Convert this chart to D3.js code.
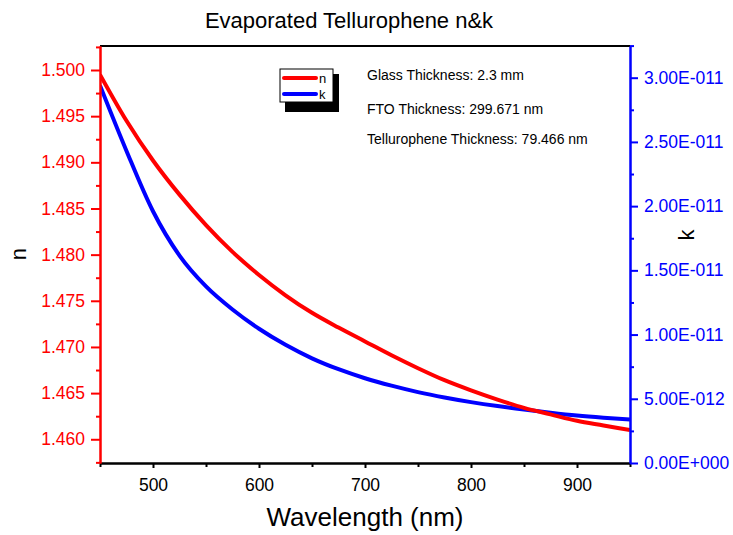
<!DOCTYPE html>
<html>
<head>
<meta charset="utf-8">
<script src="https://cdn.jsdelivr.net/npm/d3@7"></script>
<style>
  body { margin: 0; background: #fff; }
  text { font-family: "Liberation Sans", Arial, sans-serif; }
</style>
</head>
<body>
<div id="chart"></div>
<script>

// wavelength (nm) and the two optical constants
var wavelength = [450, 475, 500, 525, 550, 575, 600, 625, 650, 675, 700,
                  725, 750, 775, 800, 825, 850, 875, 900, 925, 950];
var nValues = [1.4995, 1.4945, 1.4902, 1.4865, 1.4832, 1.4803, 1.4778, 1.4756,
               1.4737, 1.4721, 1.4706, 1.4691, 1.4677, 1.4664, 1.4653, 1.4643,
               1.4634, 1.4627, 1.4620, 1.4615, 1.4610];
var kValues = [2.94e-11, 2.43e-11, 1.96e-11, 1.615e-11, 1.375e-11, 1.195e-11, 1.045e-11,
               0.92e-11, 0.815e-11, 0.73e-11, 0.66e-11, 0.602e-11, 0.552e-11, 0.51e-11,
               0.474e-11, 0.443e-11, 0.416e-11, 0.391e-11, 0.369e-11, 0.352e-11, 0.338e-11];

var xTicks = [500, 600, 700, 800, 900];
var xMinor = [450, 550, 650, 750, 850, 950];
var nTicks = [1.460, 1.465, 1.470, 1.475, 1.480, 1.485, 1.490, 1.495, 1.500];
var kTicks = [0, 5e-12, 1e-11, 1.5e-11, 2e-11, 2.5e-11, 3e-11];

var seriesNames = ["n", "k"];
var infoLines = ["Glass Thickness: 2.3 mm",
                 "FTO Thickness: 299.671 nm",
                 "Tellurophene Thickness: 79.466 nm"];

var svgWidth = 733;
var svgHeight = 535;

var margin = { top: 46, bottom: 72, left: 100, right: 103 };
var width = svgWidth - margin.left - margin.right;
var height = svgHeight - margin.top - margin.bottom;

var svg = d3.select("#chart")
  .append("svg")
  .attr("width", svgWidth)
  .attr("height", svgHeight);

var chartGroup = svg.append("g")
  .attr("transform", `translate(${margin.left}, ${margin.top})`);

// scales
var xScale = d3.scaleLinear().domain([450, 950]).range([0, width]);
var nScale = d3.scaleLinear().domain([1.45743, 1.5026]).range([height, 0]);
var kScale = d3.scaleLinear().domain([0, 3.2468e-11]).range([height, 0]);

// "3.00E-011" style labels
function sciFormat(v) {
  if (v === 0) return "0.00E+000";
  var e = Math.floor(Math.log10(v));
  var m = v / Math.pow(10, e);
  if (m >= 9.995) { m = m / 10; e = e + 1; }
  return m.toFixed(2) + "E" + (e < 0 ? "-" : "+") + String(Math.abs(e)).padStart(3, "0");
}

function midpoints(ticks) {
  var step = ticks[1] - ticks[0];
  var out = [ticks[0] - step / 2];
  ticks.forEach(function(t) { out.push(t + step / 2); });
  return out;
}

// top frame line
chartGroup.append("line")
  .attr("x1", 0).attr("x2", width)
  .attr("y1", 0).attr("y2", 0)
  .attr("stroke", "#000")
  .attr("stroke-width", 2);

// clip for the curves
svg.append("defs").append("clipPath").attr("id", "plotClip")
  .append("rect").attr("width", width).attr("height", height);

var plot = chartGroup.append("g").attr("clip-path", "url(#plotClip)");

var nLine = d3.line()
  .x((d, i) => xScale(wavelength[i]))
  .y(d => nScale(d))
  .curve(d3.curveMonotoneX);

var kLine = d3.line()
  .x((d, i) => xScale(wavelength[i]))
  .y(d => kScale(d))
  .curve(d3.curveMonotoneX);

plot.append("path")
  .datum(kValues)
  .attr("d", kLine)
  .attr("fill", "none")
  .attr("stroke", "#0000ff")
  .attr("stroke-width", 4);

plot.append("path")
  .datum(nValues)
  .attr("d", nLine)
  .attr("fill", "none")
  .attr("stroke", "#ff0000")
  .attr("stroke-width", 4);

// bottom axis
var xAxisGroup = chartGroup.append("g")
  .attr("transform", `translate(0, ${height})`);
xAxisGroup.append("g")
  .call(d3.axisBottom(xScale).tickValues(xMinor).tickSize(4).tickSizeOuter(0).tickFormat(""));
xAxisGroup.append("g")
  .call(d3.axisBottom(xScale).tickValues(xTicks).tickSize(5).tickSizeOuter(0).tickPadding(11))
  .selectAll("text")
  .attr("font-size", "17.5px")
  .attr("fill", "#000");
xAxisGroup.selectAll("path, line")
  .attr("stroke", "#000")
  .attr("stroke-width", 2);

// left axis (n)
var nAxisGroup = chartGroup.append("g");
nAxisGroup.append("g")
  .call(d3.axisLeft(nScale).tickValues(midpoints(nTicks)).tickSize(4).tickSizeOuter(0).tickFormat(""));
nAxisGroup.append("g")
  .call(d3.axisLeft(nScale).tickValues(nTicks).tickSize(9).tickSizeOuter(0)
    .tickPadding(6).tickFormat(d3.format(".3f")))
  .selectAll("text")
  .attr("font-size", "17.5px")
  .attr("fill", "#ff0000");
nAxisGroup.selectAll("path, line")
  .attr("stroke", "#ff0000")
  .attr("stroke-width", 2);

// right axis (k)
var kAxisGroup = chartGroup.append("g")
  .attr("transform", `translate(${width}, 0)`);
kAxisGroup.append("g")
  .call(d3.axisRight(kScale).tickValues(midpoints(kTicks).slice(1)).tickSize(4).tickSizeOuter(0).tickFormat(""));
kAxisGroup.append("g")
  .call(d3.axisRight(kScale).tickValues(kTicks).tickSize(8).tickSizeOuter(0)
    .tickPadding(6).tickFormat(sciFormat))
  .selectAll("text")
  .attr("font-size", "17.5px")
  .attr("fill", "#0000ff");
kAxisGroup.selectAll("path, line")
  .attr("stroke", "#0000ff")
  .attr("stroke-width", 2);

// titles
svg.append("text")
  .attr("x", 349).attr("y", 28)
  .attr("text-anchor", "middle")
  .attr("font-size", "22px")
  .text("Evaporated Tellurophene n&k");

svg.append("text")
  .attr("x", margin.left + width / 2).attr("y", 526)
  .attr("text-anchor", "middle")
  .attr("font-size", "26px")
  .text("Wavelength (nm)");

svg.append("g")
  .attr("transform", "translate(26, 254)")
  .append("text")
  .attr("text-anchor", "middle")
  .attr("transform", "rotate(-90)")
  .attr("font-size", "22px")
  .text("n");

svg.append("g")
  .attr("transform", "translate(694, 235)")
  .append("text")
  .attr("text-anchor", "middle")
  .attr("transform", "rotate(-90)")
  .attr("font-size", "22px")
  .text("k");

// legend with drop shadow
var legend = svg.append("g");
legend.append("rect")
  .attr("x", 285).attr("y", 74)
  .attr("width", 54).attr("height", 38)
  .attr("fill", "#000");
legend.append("rect")
  .attr("x", 280).attr("y", 69)
  .attr("width", 53).attr("height", 33)
  .attr("fill", "#fff")
  .attr("stroke", "#000")
  .attr("stroke-width", 1);

var legendColors = ["#ff0000", "#0000ff"];
seriesNames.forEach(function(name, i) {
  var ly = 78 + i * 16;
  legend.append("line")
    .attr("x1", 284).attr("x2", 316)
    .attr("y1", ly).attr("y2", ly)
    .attr("stroke", legendColors[i])
    .attr("stroke-width", 4)
    .attr("stroke-linecap", "round");
  legend.append("text")
    .attr("x", 319).attr("y", ly + 4.5)
    .attr("font-size", "13px")
    .text(name);
});

// thickness notes
var infoY = [80, 114, 144];
infoLines.forEach(function(line, i) {
  svg.append("text")
    .attr("x", 367).attr("y", infoY[i])
    .attr("font-size", "14px")
    .text(line);
});

</script>
</body>
</html>
